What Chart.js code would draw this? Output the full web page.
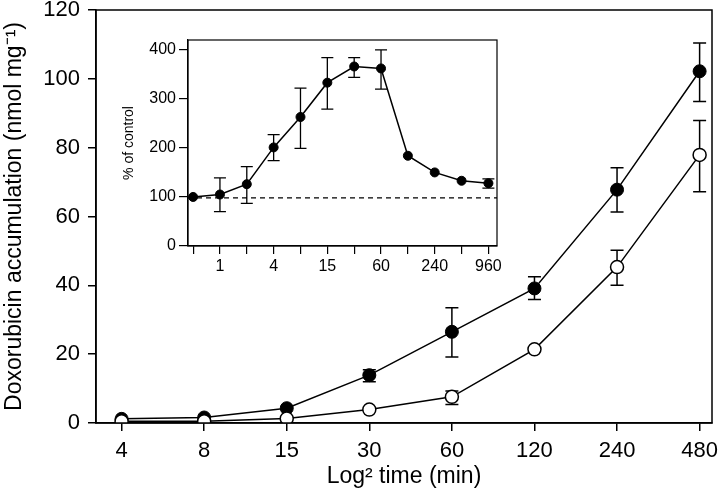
<!DOCTYPE html>
<html lang="en">
<head>
<meta charset="UTF-8" />
<title>Doxorubicin accumulation</title>
<script src="https://cdn.jsdelivr.net/npm/chart.js"></script>
<style>
  body { margin: 0; background: #fff; }
  #wrap { position: relative; width: 720px; height: 493px; }
  #main { position: absolute; left: 0; top: 0; }
  #inset { position: absolute; left: 120px; top: 30px; }
</style>
</head>
<body>
<div id="wrap">
  <canvas id="main" width="720" height="493"></canvas>
  <canvas id="inset" width="390" height="255"></canvas>
</div>
<script>
// main chart: time points (log2 spaced, min)
const timeLabels = ["4", "8", "15", "30", "60", "120", "240", "480"];
// filled circles
const filledMean = [1.2, 1.6, 4.3, 13.9, 26.5, 39.1, 67.8, 102.2];
const filledHi   = [null, null, null, 15.5, 33.5, 42.5, 74.2, 110.4];
const filledLo   = [null, null, null, 12.0, 19.2, 35.9, 61.3, 93.4];
// open circles
const openMean = [0.5, 0.5, 1.3, 3.9, 7.6, 21.4, 45.3, 77.9];
const openHi   = [null, null, null, null, 9.3, null, 50.2, 87.9];
const openLo   = [null, null, null, null, 5.4, null, 40.0, 67.2];

// inset: % of control
const insetLabels = ["", "1", "", "4", "", "15", "", "60", "", "240", "", "960"];
const insetMean = [100, 105, 126, 201, 263, 333, 366, 362, 184, 150, 133, 128];
const insetHi   = [null, 139, 162, 227, 322, 384, 384, 400, null, null, null, 137];
const insetLo   = [null, 70, 87, 174, 199, 279, 344, 320, null, null, null, 118];
const insetYTicks = [0, 100, 200, 300, 400];
const controlLevel = 98;

const FONT = "'Liberation Sans', Arial, sans-serif";

function pts(vals) {
  return vals.map((v, i) => ({ x: i, y: v }));
}

// frame around the plot area
const boxPlugin = {
  id: "box",
  afterDraw(chart, args, opts) {
    const { ctx, chartArea: a } = chart;
    ctx.save();
    ctx.strokeStyle = "#000";
    ctx.lineWidth = opts.width || 1.5;
    ctx.strokeRect(a.left, a.top, a.right - a.left, a.bottom - a.top);
    ctx.restore();
  }
};

// vertical error bars with caps
const errorBars = {
  id: "errorBars",
  beforeDatasetsDraw(chart, args, opts) {
    const { ctx } = chart;
    const ys = chart.scales.y;
    const cap = opts.cap || 6;
    ctx.save();
    ctx.strokeStyle = "#000";
    ctx.lineWidth = opts.width || 1.5;
    chart.data.datasets.forEach((ds, di) => {
      if (!ds.errHi) return;
      const meta = chart.getDatasetMeta(di);
      meta.data.forEach((pt, i) => {
        const hi = ds.errHi[i], lo = ds.errLo[i];
        if (hi == null) return;
        const x = pt.x;
        const y1 = ys.getPixelForValue(hi);
        const y2 = ys.getPixelForValue(lo);
        ctx.beginPath();
        ctx.moveTo(x, y1); ctx.lineTo(x, y2);
        ctx.moveTo(x - cap, y1); ctx.lineTo(x + cap, y1);
        ctx.moveTo(x - cap, y2); ctx.lineTo(x + cap, y2);
        ctx.stroke();
      });
    });
    ctx.restore();
  }
};

// dashed control line in the inset
const controlLine = {
  id: "controlLine",
  beforeDatasetsDraw(chart) {
    const { ctx, chartArea: a } = chart;
    const y = chart.scales.y.getPixelForValue(controlLevel);
    ctx.save();
    ctx.strokeStyle = "#000";
    ctx.lineWidth = 1.3;
    ctx.setLineDash([5, 4]);
    ctx.beginPath();
    ctx.moveTo(a.left, y);
    ctx.lineTo(a.right, y);
    ctx.stroke();
    ctx.restore();
  }
};

// keep the plot box where it is, labels may hang over the edge
function noSidePad(s) {
  s.paddingLeft = 0;
  s.paddingRight = 0;
}

new Chart(document.getElementById("main"), {
  type: "line",
  data: {
    datasets: [
      {
        data: pts(openMean),
        errHi: openHi, errLo: openLo,
        borderColor: "#000", borderWidth: 1.5,
        pointBackgroundColor: "#fff", pointBorderColor: "#000",
        pointBorderWidth: 1.5, pointRadius: 6.5,
        order: 0
      },
      {
        data: pts(filledMean),
        errHi: filledHi, errLo: filledLo,
        borderColor: "#000", borderWidth: 1.5,
        pointBackgroundColor: "#000", pointBorderColor: "#000",
        pointBorderWidth: 1, pointRadius: 6.5,
        order: 1
      }
    ]
  },
  options: {
    responsive: false,
    animation: false,
    layout: { padding: { top: 10, right: 5, left: 0, bottom: 0 } },
    plugins: {
      legend: { display: false },
      tooltip: { enabled: false },
      box: { width: 1.5 },
      errorBars: { cap: 6.5, width: 1.5 }
    },
    scales: {
      x: {
        type: "linear",
        min: -0.31,
        max: 7.15,
        afterBuildTicks: (s) => { s.ticks = timeLabels.map((_, i) => ({ value: i })); },
        afterFit: (s) => { s.height = 70; noSidePad(s); },
        ticks: {
          callback: (v, i) => timeLabels[i],
          color: "#000",
          font: { family: FONT, size: 22 },
          padding: 7,
          maxRotation: 0
        },
        grid: { drawOnChartArea: false, drawTicks: true, tickLength: 8, color: "#000", lineWidth: 1.5 },
        border: { display: true, color: "#000", width: 1.5 },
        title: {
          display: true,
          text: "Log\u00b2 time (min)",
          color: "#000",
          font: { family: FONT, size: 23 },
          padding: { top: 0, bottom: 3 }
        }
      },
      y: {
        min: 0,
        max: 120,
        afterFit: (s) => { s.width = 96; s.paddingTop = 0; s.paddingBottom = 0; },
        ticks: {
          stepSize: 20,
          color: "#000",
          font: { family: FONT, size: 22 },
          padding: 8
        },
        grid: { drawOnChartArea: false, drawTicks: true, tickLength: 8, color: "#000", lineWidth: 1.5 },
        border: { display: true, color: "#000", width: 1.5 },
        title: {
          display: true,
          text: "Doxorubicin accumulation (nmol mg\u207b\u00b9)",
          color: "#000",
          font: { family: FONT, size: 23 },
          padding: { top: 1, bottom: 0 }
        }
      }
    }
  },
  plugins: [boxPlugin, errorBars]
});

new Chart(document.getElementById("inset"), {
  type: "line",
  data: {
    datasets: [
      {
        data: pts(insetMean),
        errHi: insetHi, errLo: insetLo,
        borderColor: "#000", borderWidth: 1.5,
        pointBackgroundColor: "#000", pointBorderColor: "#000",
        pointBorderWidth: 1, pointRadius: 4.5
      }
    ]
  },
  options: {
    responsive: false,
    animation: false,
    layout: { padding: { top: 10, right: 13, left: 0, bottom: 0 } },
    plugins: {
      legend: { display: false },
      tooltip: { enabled: false },
      box: { width: 1.2 },
      errorBars: { cap: 6, width: 1.3 }
    },
    scales: {
      x: {
        type: "linear",
        min: -0.19,
        max: 11.32,
        afterBuildTicks: (s) => { s.ticks = insetLabels.map((_, i) => ({ value: i })); },
        afterFit: (s) => { s.height = 39; noSidePad(s); },
        ticks: {
          callback: (v, i) => insetLabels[i],
          autoSkip: false,
          color: "#000",
          font: { family: FONT, size: 16 },
          padding: 3,
          maxRotation: 0
        },
        grid: { drawOnChartArea: false, drawTicks: true, tickLength: 8, color: "#000", lineWidth: 1.2 },
        border: { display: true, color: "#000", width: 1.2 }
      },
      y: {
        min: 0,
        max: 420,
        afterBuildTicks: (s) => { s.ticks = insetYTicks.map((v) => ({ value: v })); },
        afterFit: (s) => { s.width = 68; s.paddingTop = 0; s.paddingBottom = 0; },
        ticks: {
          color: "#000",
          font: { family: FONT, size: 16 },
          padding: 3
        },
        grid: { drawOnChartArea: false, drawTicks: true, tickLength: 9, color: "#000", lineWidth: 1.2 },
        border: { display: true, color: "#000", width: 1.2 },
        title: {
          display: true,
          text: "% of control",
          color: "#000",
          font: { family: FONT, size: 14 },
          padding: { top: 1, bottom: 0 }
        }
      }
    }
  },
  plugins: [boxPlugin, errorBars, controlLine]
});
</script>
</body>
</html>
